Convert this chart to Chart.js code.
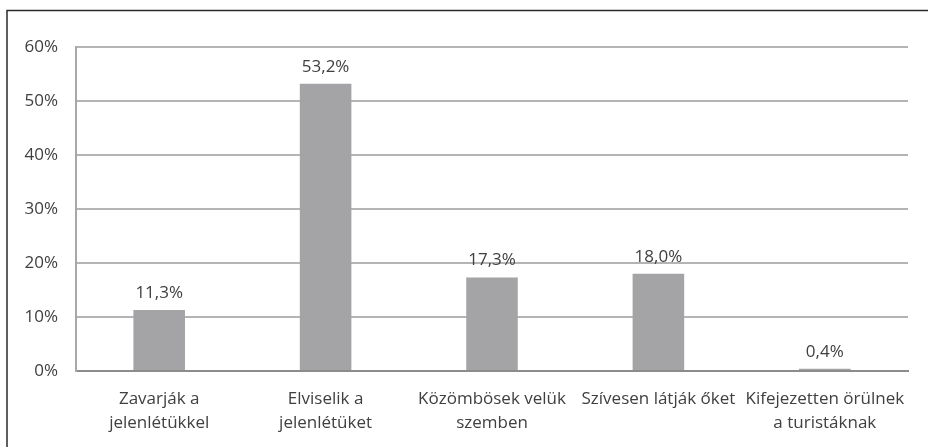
<!DOCTYPE html>
<html>
<head>
<meta charset="utf-8">
<script src="https://cdn.jsdelivr.net/npm/chart.js@4"></script>
<style>
  html, body { margin: 0; padding: 0; background: #ffffff; }
  #wrap { width: 928px; height: 447px; position: relative; }
</style>
</head>
<body>
<div id="wrap"><canvas id="chart" width="928" height="447"></canvas></div>
<script>
// categories (x axis), two-line labels like the original
const categories = [
    ['Zavarják a', 'jelenlétükkel'],
    ['Elviselik a', 'jelenlétüket'],
    ['Közömbösek velük', 'szemben'],
    ['Szívesen látják őket'],
    ['Kifejezetten örülnek', 'a turistáknak']
];
// share of respondents, percent
const shares = [11.3, 53.2, 17.3, 18.0, 0.4];
const yTicks = [0, 10, 20, 30, 40, 50, 60];

const textColor = '#404040';
const fontFamily = '"Open Sans", Lato, sans-serif';

// value labels above each bar, decimal comma
const valueLabels = {
    id: 'valueLabels',
    afterDatasetsDraw(chart) {
        const ctx = chart.ctx;
        const meta = chart.getDatasetMeta(0);
        ctx.save();
        ctx.font = '17px ' + fontFamily;
        ctx.fillStyle = textColor;
        ctx.textAlign = 'center';
        ctx.textBaseline = 'middle';
        meta.data.forEach((bar, i) => {
            const txt = shares[i].toFixed(1).replace('.', ',') + '%';
            ctx.fillText(txt, bar.x, bar.y - 17);
        });
        ctx.restore();
    }
};

// the frame lines of the original picture (left and top)
const frame = {
    id: 'frame',
    afterDraw(chart) {
        const ctx = chart.ctx;
        ctx.save();
        ctx.strokeStyle = '#2a2a2a';
        ctx.lineWidth = 1.5;
        ctx.beginPath();
        ctx.moveTo(7, 447);
        ctx.lineTo(7, 10.5);
        ctx.lineTo(928, 10.5);
        ctx.stroke();
        ctx.restore();
    }
};

new Chart(document.getElementById('chart'), {
    type: 'bar',
    data: {
        labels: categories,
        datasets: [{
            data: shares,
            backgroundColor: '#a4a4a7',
            borderWidth: 0,
            categoryPercentage: 1,
            barPercentage: 0.31
        }]
    },
    options: {
        responsive: false,
        animation: false,
        layout: { padding: { left: 0, right: 20, top: 47, bottom: 0 } },
        plugins: {
            legend: { display: false },
            tooltip: { enabled: false }
        },
        scales: {
            x: {
                grid: { display: false, drawTicks: false },
                border: { color: '#8c8c8c', width: 2 },
                ticks: {
                    color: textColor,
                    font: { family: fontFamily, size: 17, lineHeight: 1.41 },
                    padding: 16,
                    maxRotation: 0,
                    autoSkip: false
                },
                afterFit(scale) { scale.height = 76; }
            },
            y: {
                min: 0,
                max: 60,
                afterBuildTicks(scale) { scale.ticks = yTicks.map(v => ({ value: v })); },
                grid: { color: '#b4b4b4', lineWidth: 2, drawTicks: false },
                border: { color: '#a8a8a8', width: 2 },
                ticks: {
                    color: textColor,
                    font: { family: fontFamily, size: 17 },
                    padding: 18,
                    callback: v => v + '%'
                },
                afterFit(scale) { scale.width = 76; }
            }
        }
    },
    plugins: [valueLabels, frame]
});
</script>
</body>
</html>
